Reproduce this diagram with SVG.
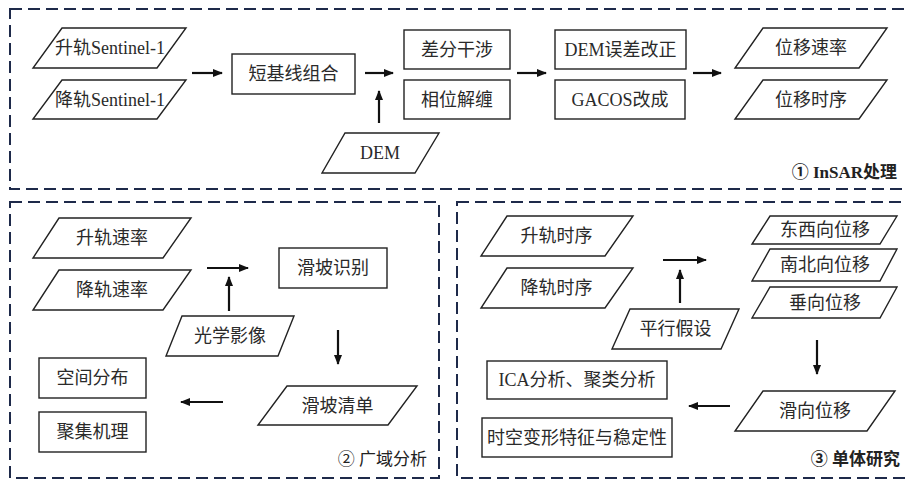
<svg xmlns="http://www.w3.org/2000/svg" width="905" height="480" viewBox="0 0 905 480">
<defs>
<style>
.panel{fill:none;stroke:#1e2a4a;stroke-width:2;stroke-dasharray:12 6}
.n{fill:#fff;stroke:#222;stroke-width:1.4}
.t{font-family:"Liberation Serif","Noto Sans CJK SC",serif;font-size:18px;fill:#2a2a2a;text-anchor:middle}
.lbl{font-family:"Liberation Serif","Noto Sans CJK SC",serif;font-size:17px;fill:#222;text-anchor:end}
.c{stroke:#111;stroke-width:2.2;fill:none;marker-end:url(#ah)}
</style>
<marker id="ah" viewBox="0 0 10 8" refX="9" refY="4" markerWidth="10" markerHeight="8" markerUnits="userSpaceOnUse" orient="auto">
<path d="M0,0 L10,4 L0,8 Z" fill="#111"/>
</marker>
</defs>
<rect width="905" height="480" fill="#fff"/>
<g id="panels">
<rect class="panel" x="10" y="9" width="905" height="180"/>
<rect class="panel" x="10" y="202" width="429" height="276"/>
<rect class="panel" x="457" y="202" width="455" height="276"/>
<text class="lbl" x="897" y="178" font-weight="bold">① InSAR处理</text>
<text class="lbl" x="427" y="465">② 广域分析</text>
<text class="lbl" x="900" y="465" font-weight="bold">③ 单体研究</text>
</g>
<g id="connectors">
<line class="c" x1="192" y1="73" x2="222" y2="73"/>
<line class="c" x1="365" y1="73" x2="393" y2="73"/>
<line class="c" x1="379" y1="123" x2="379" y2="91"/>
<line class="c" x1="517" y1="73" x2="546" y2="73"/>
<line class="c" x1="693" y1="73" x2="721" y2="73"/>
<line class="c" x1="207" y1="268" x2="248" y2="268"/>
<line class="c" x1="229" y1="311" x2="229" y2="277"/>
<line class="c" x1="338" y1="330" x2="338" y2="364"/>
<line class="c" x1="223" y1="402" x2="181" y2="402"/>
<line class="c" x1="663" y1="260" x2="706" y2="260"/>
<line class="c" x1="680" y1="303" x2="680" y2="270"/>
<line class="c" x1="817" y1="340" x2="817" y2="374"/>
<line class="c" x1="730" y1="406" x2="689" y2="406"/>
</g>
<g id="asc-s1"><polygon class="n" points="62,28 186,28 157,68 33,68"/><text class="t" x="110" y="54">升轨Sentinel-1</text></g>
<g id="desc-s1"><polygon class="n" points="62,80 186,80 157,119 33,119"/><text class="t" x="110" y="105.5">降轨Sentinel-1</text></g>
<g id="sbas"><rect class="n" x="232" y="54" width="123" height="40"/><text class="t" x="293.5" y="80">短基线组合</text></g>
<g id="dem"><polygon class="n" points="345,133 439,133 415,173 322,173"/><text class="t" x="380" y="159">DEM</text></g>
<g id="diff"><rect class="n" x="404" y="30" width="106" height="39"/><text class="t" x="457" y="55.5">差分干涉</text></g>
<g id="unwrap"><rect class="n" x="404" y="80" width="106" height="39"/><text class="t" x="457" y="105.5">相位解缠</text></g>
<g id="demerr"><rect class="n" x="555" y="30" width="131" height="39"/><text class="t" x="620.5" y="55.5">DEM误差改正</text></g>
<g id="gacos"><rect class="n" x="555" y="80" width="130" height="39"/><text class="t" x="620" y="105.5">GACOS改成</text></g>
<g id="vel"><polygon class="n" points="763,28 887,28 859,68 735,68"/><text class="t" x="811" y="54">位移速率</text></g>
<g id="ts"><polygon class="n" points="763,80 887,80 859,119 735,119"/><text class="t" x="811" y="105.5">位移时序</text></g>
<g id="asc-vel"><polygon class="n" points="59,218 191,218 163,258 33,258"/><text class="t" x="112" y="244">升轨速率</text></g>
<g id="desc-vel"><polygon class="n" points="59,270 191,270 163,310 33,310"/><text class="t" x="112" y="296">降轨速率</text></g>
<g id="ident"><rect class="n" x="279" y="248" width="108" height="40"/><text class="t" x="333" y="274">滑坡识别</text></g>
<g id="optical"><polygon class="n" points="182,316 294,316 278,356 166,356"/><text class="t" x="230" y="342">光学影像</text></g>
<g id="inventory"><polygon class="n" points="287,386 417,386 388,425 258,425"/><text class="t" x="337.5" y="411.5">滑坡清单</text></g>
<g id="spatial"><rect class="n" x="39" y="358" width="107" height="40"/><text class="t" x="92.5" y="384">空间分布</text></g>
<g id="mech"><rect class="n" x="39" y="412" width="107" height="40"/><text class="t" x="92.5" y="438">聚集机理</text></g>
<g id="asc-ts"><polygon class="n" points="507,216 633,216 605,256 481,256"/><text class="t" x="556.5" y="242">升轨时序</text></g>
<g id="desc-ts"><polygon class="n" points="507,268 633,268 605,308 481,308"/><text class="t" x="556.5" y="294">降轨时序</text></g>
<g id="parallel"><polygon class="n" points="630,309 739,309 721,349 612,349"/><text class="t" x="675.5" y="335">平行假设</text></g>
<g id="ew"><polygon class="n" points="770,216 897,216 880,244 752,244"/><text class="t" x="825" y="236">东西向位移</text></g>
<g id="ns"><polygon class="n" points="770,249 897,249 880,281 752,281"/><text class="t" x="825" y="271">南北向位移</text></g>
<g id="up"><polygon class="n" points="770,287 897,287 880,318 752,318"/><text class="t" x="825" y="308.5">垂向位移</text></g>
<g id="slide"><polygon class="n" points="763,391 895,391 867,431 735,431"/><text class="t" x="815" y="417">滑向位移</text></g>
<g id="ica"><rect class="n" x="487" y="361" width="180" height="38"/><text class="t" x="577" y="386">ICA分析、聚类分析</text></g>
<g id="stab"><rect class="n" x="482" y="418" width="190" height="39"/><text class="t" x="577" y="443.5">时空变形特征与稳定性</text></g>
</svg>
